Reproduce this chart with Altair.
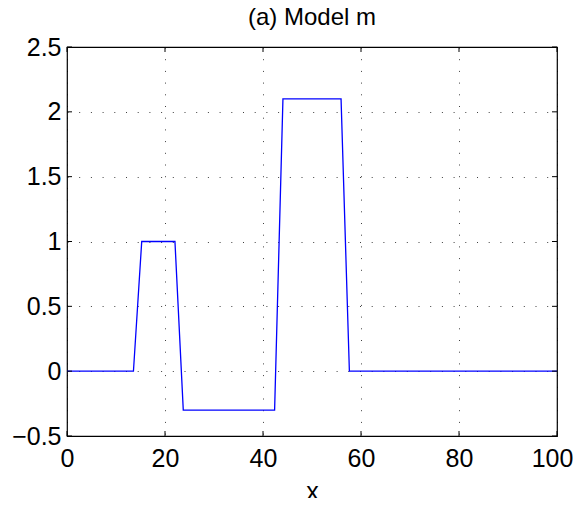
import altair as alt
import pandas as pd

# Data
x_vals = [0, 13.56, 15.25, 22.03, 23.73, 42.37, 44.07, 55.93, 57.63, 100]
m_vals = [0, 0, 1, 1, -0.3, -0.3, 2.1, 2.1, 0, 0]
x_ticks = [0, 20, 40, 60, 80, 100]
y_ticks = [-0.5, 0, 0.5, 1, 1.5, 2, 2.5]

W, H = 490, 389
FONT = "Liberation Sans"
FS = 25
TICK = 5

df = pd.DataFrame({"x": x_vals, "m": m_vals})
xt = pd.DataFrame({"x": x_ticks})
yt = pd.DataFrame({"m": y_ticks})

xscale = alt.Scale(domain=[0, 100], nice=False, zero=False)
yscale = alt.Scale(domain=[-0.5, 2.5], nice=False, zero=False)

common = dict(grid=True, gridDash=[1, 10.7], gridColor="#000", gridOpacity=0.75,
              gridWidth=1, tickSize=0, domain=False, labelFontSize=FS, labelFont=FONT,
              labelColor="#000", labelOverlap=False, labelFlush=False,
              titleFontSize=FS, titleFont=FONT, titleFontWeight="normal", titleColor="#000")

xaxis = alt.Axis(values=x_ticks, title="x", labelPadding=10, titlePadding=8, format="~r",
                 labelOffset={"condition": {"test": "datum.value == 100", "value": -5}, "value": 0},
                 **common)
yaxis = alt.Axis(values=y_ticks, title=None, labelPadding=6, format="~r", **common)

X = alt.X("x:Q", scale=xscale, axis=xaxis)
Y = alt.Y("m:Q", scale=yscale, axis=yaxis)

line = alt.Chart(df).mark_line(color="#0000ff", strokeWidth=1.3).encode(x=X, y=Y)

tick_style = dict(color="#000", strokeWidth=1)
bottom = alt.Chart(xt).mark_rule(**tick_style).encode(
    x=X, y=alt.value(H), y2=alt.value(H - TICK))
top = alt.Chart(xt).mark_rule(**tick_style).encode(
    x=X, y=alt.value(0), y2=alt.value(TICK))
left = alt.Chart(yt).mark_rule(**tick_style).encode(
    y=Y, x=alt.value(0), x2=alt.value(TICK))
right = alt.Chart(yt).mark_rule(**tick_style).encode(
    y=Y, x=alt.value(W), x2=alt.value(W - TICK))

chart = alt.layer(line, bottom, top, left, right).properties(
    width=W, height=H,
    title=alt.TitleParams("(a) Model m", fontSize=24, font=FONT, fontWeight="normal",
                          color="#000", offset=5, anchor="middle", frame="group"),
    autosize=alt.AutoSizeParams(type="none"),
    padding={"left": 59, "top": 39, "right": 16, "bottom": 62},
    background="white",
).configure_view(stroke="#000", strokeWidth=1.2)

chart.save("out.html", embed_options={"renderer": "svg", "actions": False})
